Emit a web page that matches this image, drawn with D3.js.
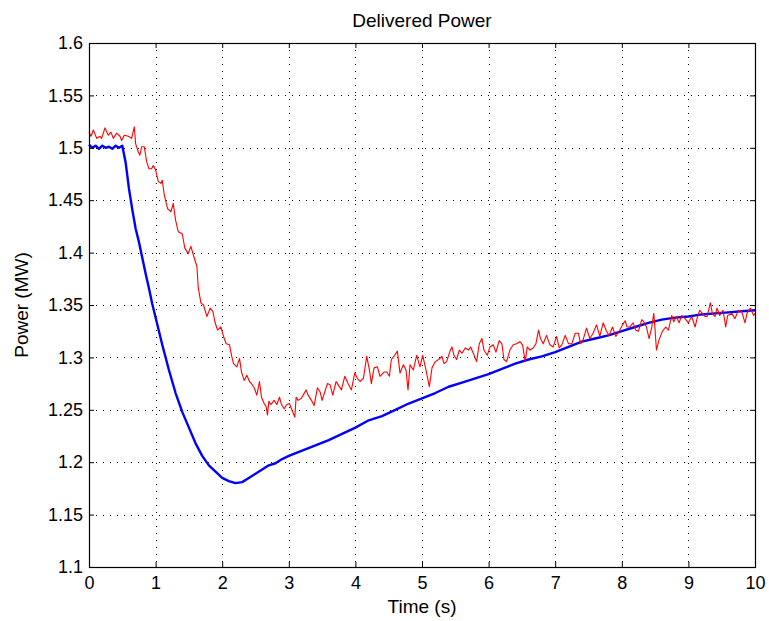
<!DOCTYPE html>
<html>
<head>
<meta charset="utf-8">
<script src="https://cdn.jsdelivr.net/npm/d3@7"></script>
<style>
  body { margin: 0; background: #fff; }
  svg { display: block; }
  text { font-family: "Liberation Sans", Arial, Helvetica, sans-serif; fill: #000; }
</style>
</head>
<body>
<svg id="chart" width="769" height="621"></svg>
<script>
const title = "Delivered Power";
const xLabel = "Time (s)";
const yLabel = "Power (MW)";
const xTicks = [0,1,2,3,4,5,6,7,8,9,10];
const yTicks = [1.1,1.15,1.2,1.25,1.3,1.35,1.4,1.45,1.5,1.55,1.6];
const yTickLabels = ["1.1","1.15","1.2","1.25","1.3","1.35","1.4","1.45","1.5","1.55","1.6"];

// Blue series (time, power)
const blueT = [0,0.05,0.1,0.15,0.2,0.25,0.3,0.35,0.4,0.45,0.5,0.55,0.6,0.65,0.7,0.75,0.8,0.85,0.9,0.95,1.0,1.1,1.2,1.3,1.4,1.5,1.6,1.7,1.8,1.9,2.0,2.1,2.2,2.3,2.4,2.5,2.6,2.7,2.8,2.9,3.0,3.2,3.4,3.6,3.8,4.0,4.2,4.4,4.6,4.8,5.0,5.2,5.4,5.6,5.8,6.0,6.2,6.4,6.6,6.8,7.0,7.2,7.4,7.6,7.8,8.0,8.2,8.4,8.6,8.8,9.0,9.2,9.4,9.6,9.8,10.0];
const blueV = [1.503,1.500,1.502,1.499,1.502,1.500,1.501,1.499,1.502,1.500,1.502,1.486,1.461,1.441,1.423,1.410,1.395,1.380,1.366,1.351,1.338,1.312,1.288,1.266,1.248,1.233,1.218,1.206,1.197,1.191,1.185,1.182,1.180,1.181,1.185,1.189,1.193,1.197,1.199,1.203,1.206,1.211,1.216,1.221,1.227,1.233,1.240,1.244,1.250,1.256,1.261,1.266,1.272,1.276,1.280,1.284,1.289,1.294,1.298,1.301,1.305,1.310,1.315,1.318,1.321,1.325,1.329,1.333,1.336,1.338,1.339,1.341,1.342,1.343,1.344,1.345];

// Red series (time, power)
const redT = [0,0.03,0.065,0.115,0.165,0.19,0.24,0.29,0.33,0.365,0.415,0.465,0.49,0.53,0.59,0.64,0.68,0.70,0.74,0.765,0.79,0.83,0.865,0.90,0.94,0.965,1.00,1.04,1.08,1.10,1.13,1.18,1.23,1.265,1.30,1.34,1.40,1.44,1.49,1.53,1.57,1.62,1.64,1.68,1.72,1.77,1.82,1.86,1.89,1.93,1.98,2.02,2.06,2.11,2.14,2.17,2.22,2.26,2.29,2.33,2.37,2.41,2.44,2.48,2.52,2.56,2.59,2.63,2.66,2.68,2.70,2.73,2.78,2.82,2.86,2.89,2.93,2.97,3.01,3.04,3.09,3.11,3.14,3.19,3.26,3.29,3.34,3.38,3.43,3.47,3.50,3.54,3.58,3.62,3.66,3.71,3.74,3.79,3.84,3.89,3.94,3.99,4.03,4.07,4.12,4.17,4.21,4.24,4.28,4.33,4.37,4.43,4.47,4.51,4.54,4.59,4.63,4.67,4.72,4.76,4.79,4.82,4.87,4.92,4.97,5.01,5.06,5.11,5.15,5.20,5.25,5.30,5.33,5.37,5.42,5.45,5.48,5.52,5.56,5.60,5.65,5.70,5.73,5.77,5.82,5.86,5.90,5.93,5.98,6.02,6.07,6.11,6.16,6.20,6.23,6.27,6.32,6.37,6.42,6.47,6.51,6.55,6.58,6.62,6.67,6.71,6.75,6.78,6.82,6.87,6.92,6.97,7.02,7.06,7.10,7.15,7.20,7.25,7.30,7.35,7.38,7.42,7.47,7.52,7.57,7.62,7.67,7.72,7.77,7.81,7.86,7.91,7.96,8.01,8.05,8.08,8.12,8.17,8.21,8.25,8.30,8.33,8.37,8.41,8.45,8.48,8.50,8.52,8.56,8.61,8.66,8.70,8.75,8.78,8.82,8.86,8.90,8.95,9.00,9.05,9.10,9.13,9.17,9.21,9.25,9.28,9.33,9.36,9.40,9.43,9.47,9.52,9.56,9.59,9.65,9.70,9.75,9.80,9.85,9.88,9.93,9.98,10.0];
const redV = [1.515,1.511,1.517,1.509,1.511,1.509,1.519,1.512,1.515,1.509,1.514,1.511,1.507,1.512,1.511,1.509,1.520,1.504,1.496,1.493,1.501,1.501,1.487,1.480,1.480,1.483,1.479,1.468,1.466,1.469,1.455,1.442,1.439,1.447,1.431,1.420,1.418,1.404,1.399,1.406,1.397,1.387,1.367,1.352,1.350,1.339,1.347,1.344,1.334,1.326,1.329,1.320,1.313,1.312,1.302,1.294,1.291,1.299,1.286,1.278,1.283,1.277,1.275,1.271,1.264,1.277,1.262,1.256,1.253,1.245,1.258,1.255,1.259,1.255,1.262,1.255,1.251,1.255,1.256,1.251,1.243,1.262,1.259,1.261,1.269,1.264,1.259,1.254,1.271,1.267,1.259,1.267,1.275,1.274,1.264,1.277,1.274,1.269,1.282,1.275,1.269,1.285,1.280,1.277,1.280,1.301,1.288,1.275,1.290,1.291,1.282,1.286,1.286,1.282,1.298,1.302,1.306,1.285,1.293,1.288,1.269,1.293,1.288,1.302,1.291,1.302,1.288,1.272,1.290,1.296,1.298,1.301,1.294,1.296,1.306,1.310,1.302,1.298,1.307,1.304,1.309,1.307,1.310,1.304,1.296,1.313,1.318,1.307,1.302,1.310,1.312,1.305,1.316,1.313,1.298,1.296,1.307,1.312,1.313,1.315,1.312,1.296,1.310,1.307,1.309,1.313,1.326,1.318,1.313,1.321,1.312,1.310,1.320,1.309,1.312,1.321,1.313,1.313,1.323,1.323,1.313,1.317,1.328,1.318,1.323,1.331,1.320,1.333,1.325,1.321,1.329,1.320,1.325,1.331,1.335,1.329,1.329,1.333,1.326,1.325,1.336,1.334,1.329,1.318,1.329,1.342,1.326,1.307,1.317,1.325,1.329,1.326,1.340,1.334,1.339,1.333,1.340,1.337,1.333,1.339,1.329,1.337,1.345,1.342,1.339,1.339,1.352,1.342,1.339,1.347,1.340,1.345,1.329,1.340,1.342,1.337,1.345,1.344,1.333,1.342,1.347,1.340,1.342];

const margin = {left: 89, top: 43, right: 769 - 755, bottom: 621 - 567};
const W = 769 - margin.left - margin.right;
const H = 621 - margin.top - margin.bottom;

const svg = d3.select("#chart");
const g = svg.append("g").attr("transform", `translate(${margin.left},${margin.top})`);

const x = d3.scaleLinear().domain([0, 10]).range([0, W]);
const y = d3.scaleLinear().domain([1.1, 1.6]).range([H, 0]);

// grid
g.append("g").selectAll("line").data(xTicks.slice(1, -1)).join("line")
  .attr("x1", d => Math.round(x(d)) + 0.5).attr("x2", d => Math.round(x(d)) + 0.5)
  .attr("y1", 0).attr("y2", H)
  .attr("stroke", "#000").attr("stroke-width", 1).attr("stroke-dasharray", "1,6");
g.append("g").selectAll("line").data(yTicks.slice(1, -1)).join("line")
  .attr("y1", d => Math.round(y(d)) + 0.5).attr("y2", d => Math.round(y(d)) + 0.5)
  .attr("x1", 0).attr("x2", W)
  .attr("stroke", "#000").attr("stroke-width", 1).attr("stroke-dasharray", "1,6");

const line = d3.line().x(d => x(d[0])).y(d => y(d[1]));
const blue = blueT.map((t, i) => [t, blueV[i]]);
const red = redT.map((t, i) => [t, redV[i]]);

g.append("path").datum(blue).attr("d", line)
  .attr("fill", "none").attr("stroke", "#0000ff").attr("stroke-width", 2.4).attr("stroke-linejoin", "round");
g.append("path").datum(red).attr("d", line)
  .attr("fill", "none").attr("stroke", "#ff0000").attr("stroke-width", 1.1).attr("stroke-linejoin", "round");

// axes (inner ticks, MATLAB style)
const fs = 18;
const xAxis = d3.axisBottom(x).tickValues(xTicks).tickSize(-5).tickPadding(9).tickFormat(d3.format("d"));
const yAxis = d3.axisLeft(y).tickValues(yTicks).tickSize(-5).tickPadding(6).tickFormat((d, i) => yTickLabels[i]);
const gx = g.append("g").attr("transform", `translate(0,${H})`).call(xAxis);
const gy = g.append("g").call(yAxis);
const gxt = g.append("g").call(d3.axisTop(x).tickValues(xTicks).tickSize(-5).tickFormat(""));
const gyr = g.append("g").attr("transform", `translate(${W},0)`).call(d3.axisRight(y).tickValues(yTicks).tickSize(-5).tickFormat(""));
[gx, gy, gxt, gyr].forEach(a => {
  a.select(".domain").remove();
  a.selectAll("line").attr("stroke", "#000");
  a.selectAll("text").attr("font-size", fs).attr("font-family", "Liberation Sans, Arial, sans-serif").attr("fill", "#000");
});
g.append("rect").attr("x", 0.5).attr("y", 0.5).attr("width", W).attr("height", H)
  .attr("fill", "none").attr("stroke", "#000").attr("stroke-width", 1.2);

// labels
svg.append("text").attr("x", margin.left + W / 2).attr("y", 27)
  .attr("text-anchor", "middle").attr("font-size", 19).text(title);
svg.append("text").attr("x", margin.left + W / 2).attr("y", 613)
  .attr("text-anchor", "middle").attr("font-size", 19).text(xLabel);
svg.append("text").attr("transform", `translate(28,${margin.top + H / 2}) rotate(-90)`)
  .attr("text-anchor", "middle").attr("font-size", 19).text(yLabel);
</script>
</body>
</html>
